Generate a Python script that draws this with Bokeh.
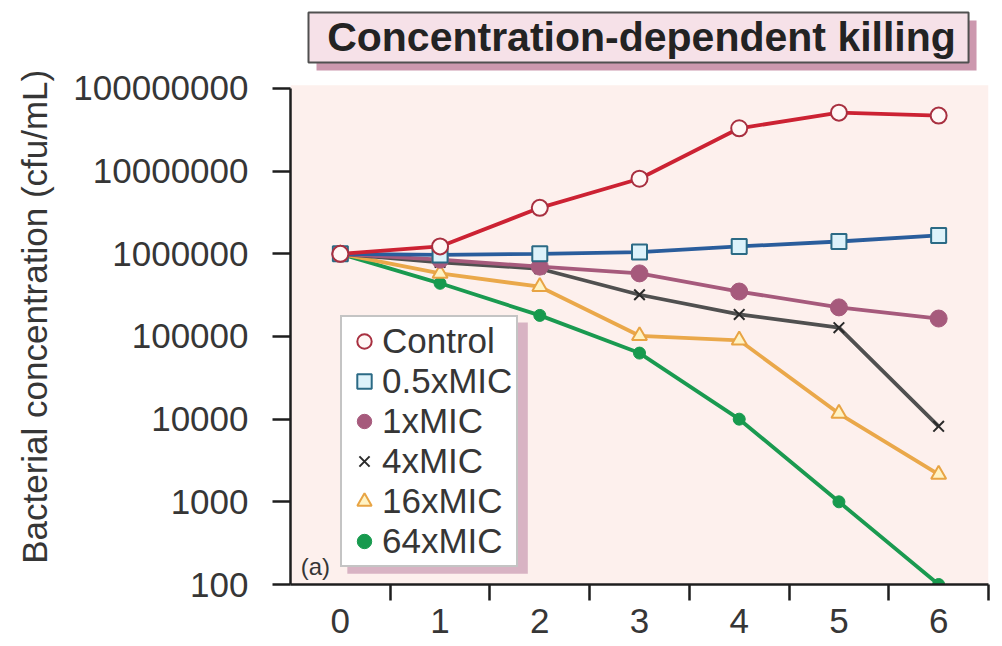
from bokeh.plotting import figure
from bokeh.models import Range1d, FixedTicker, Legend, LegendItem, BoxAnnotation, Label
from bokeh.embed import file_html
from bokeh.resources import INLINE
from bokeh.core.properties import value

# ---------------- data ----------------
title_text = "Concentration-dependent killing"
y_axis_title = "Bacterial concentration (cfu/mL)"
panel_tag = "(a)"

hours = [0, 1, 2, 3, 4, 5, 6]
control = [1.0e6, 1.23e6, 3.6e6, 8.1e6, 3.3e7, 5.1e7, 4.7e7]
mic_0_5 = [1.0e6, 0.97e6, 1.0e6, 1.05e6, 1.23e6, 1.41e6, 1.67e6]
mic_1 = [1.0e6, 8.5e5, 7.0e5, 5.8e5, 3.5e5, 2.25e5, 1.65e5]
mic_4 = [1.0e6, 7.9e5, 6.6e5, 3.2e5, 1.85e5, 1.28e5, 8.2e3]
mic_16 = [1.0e6, 5.8e5, 4.0e5, 1.02e5, 9.0e4, 1.17e4, 2.15e3]
mic_64 = [1.0e6, 4.4e5, 1.8e5, 6.3e4, 1.0e4, 1.0e3, 1.0e2]

series_names = ["Control", "0.5xMIC", "1xMIC", "4xMIC", "16xMIC", "64xMIC"]

y_ticks = [100, 1000, 10000, 100000, 1000000, 10000000, 100000000]
y_tick_labels = ["100", "1000", "10000", "100000", "1000000", "10000000", "100000000"]
x_tick_half = [0.5, 1.5, 2.5, 3.5, 4.5, 5.5, 6.5]

FONT = "Liberation Sans"
TXT = "#363636"

# the frame also spans the title strip above the data area
Y_TOP = 10 ** 9.0645

p = figure(width=994, height=638, x_range=Range1d(-0.5, 6.5), y_range=Range1d(100, Y_TOP),
           y_axis_type="log", output_backend="svg", toolbar_location=None,
           min_border_left=290, min_border_right=6, min_border_top=0, min_border_bottom=54)
p.outline_line_color = None
p.background_fill_color = "white"
p.border_fill_color = "white"
p.xgrid.visible = False
p.ygrid.visible = False

# pink data area
plot_bg = BoxAnnotation(bottom=100, top=10 ** 8.04, fill_color="#fdf0ed", fill_alpha=1.0,
                        line_color=None, level="underlay")
p.add_layout(plot_bg)

# x axis: integer labels, ticks between them
xa = p.xaxis[0]
xa.ticker = FixedTicker(ticks=hours, minor_ticks=x_tick_half)
xa.major_tick_line_color = None
xa.major_tick_out = 0
xa.major_tick_in = 0
xa.minor_tick_line_color = "#1e1e1e"
xa.minor_tick_line_width = 2.5
xa.minor_tick_out = 16
xa.minor_tick_in = 0
xa.axis_line_color = "#1e1e1e"
xa.axis_line_width = 2.5
xa.major_label_text_font = FONT
xa.major_label_text_font_size = "35px"
xa.major_label_text_color = TXT
xa.major_label_standoff = 8

ya = p.yaxis[0]
ya.bounds = (y_ticks[0], y_ticks[-1])
ya.ticker = FixedTicker(ticks=y_ticks, minor_ticks=[])
ya.major_label_overrides = {t: s for t, s in zip(y_ticks, y_tick_labels)}
ya.major_tick_out = 18
ya.major_tick_in = 0
ya.major_tick_line_width = 2.5
ya.major_tick_line_color = "#1e1e1e"
ya.minor_tick_line_color = None
ya.axis_line_color = "#1e1e1e"
ya.axis_line_width = 2.5
ya.major_label_text_font = FONT
ya.major_label_text_font_size = "35px"
ya.major_label_text_color = TXT
ya.major_label_standoff = 24
# trailing no-break spaces move the centred label down to sit beside the data area
ya.axis_label = y_axis_title + "\u00a0" * 5
ya.axis_label_text_font = FONT
ya.axis_label_text_font_size = "35px"
ya.axis_label_text_font_style = "normal"
ya.axis_label_text_color = TXT
ya.axis_label_standoff = 16

series = [
    (control, "#cc2233", dict(marker="circle", size=16, fill_color="#fff7f5", line_color="#a83040", line_width=2)),
    (mic_0_5, "#2a5d9c", dict(marker="square", size=15, fill_color="#ddf2fa", line_color="#2b6a85", line_width=2)),
    (mic_1, "#a65a7c", dict(marker="circle", size=17, fill_color="#a65a7c", line_color="#a65a7c", line_width=1)),
    (mic_4, "#505050", dict(marker="x", size=15, fill_color=None, line_color="#2a2a2a", line_width=2)),
    (mic_16, "#eaa84a", dict(marker="triangle", size=15, fill_color="#fff3c4", line_color="#e8a444", line_width=2)),
    (mic_64, "#1a9a50", dict(marker="circle", size=12, fill_color="#179a4e", line_color="#179a4e", line_width=1)),
]

scatter_renderers = {}
for idx in reversed(range(len(series))):
    ys, col, mk = series[idx]
    p.line(hours, ys, line_color=col, line_width=3.8)
for idx in reversed(range(len(series))):
    ys, col, mk = series[idx]
    scatter_renderers[idx] = p.scatter(hours, ys, **mk)

# ---------------- title box (in the strip above the data area) ----------------
title_shadow = BoxAnnotation(left=-0.2392, right=6.380, bottom=10 ** 8.2177, top=10 ** 8.8226,
                             fill_color="#cc98ae", fill_alpha=1.0, line_color=None)
p.add_layout(title_shadow)
title_box = BoxAnnotation(left=-0.3195, right=6.300, bottom=10 ** 8.3145, top=10 ** 8.9193,
                          fill_color="#f6e1e8", fill_alpha=1.0,
                          line_color="#505050", line_width=2, line_alpha=1.0)
p.add_layout(title_box)
title_lbl = Label(x=3.02, y=10 ** 8.617, text=title_text,
                  text_align="center", text_baseline="middle",
                  text_font=FONT, text_font_style="bold", text_font_size="41px",
                  text_color="#232323")
p.add_layout(title_lbl)

# ---------------- legend ----------------
shadow = BoxAnnotation(left=0.07, right=1.88, bottom=10 ** 2.13, top=10 ** 5.17,
                       fill_color="#d8b3c3", fill_alpha=1.0, line_color=None)
p.add_layout(shadow)

legend = Legend(items=[LegendItem(label=series_names[i], renderers=[scatter_renderers[i]])
                       for i in range(len(series_names))],
                location=(50, 17))
legend.background_fill_color = "white"
legend.background_fill_alpha = 1.0
legend.border_line_color = "#8a8a8a"
legend.border_line_width = 2
legend.padding = 4
legend.margin = 0
legend.spacing = 0
legend.glyph_width = 36
legend.glyph_height = 36
legend.label_height = 36
legend.label_standoff = 0
legend.label_text_font = FONT
legend.label_text_font_size = "35px"
legend.label_text_color = TXT
p.add_layout(legend)

tag = Label(x=-0.25, y=10 ** 2.05, text=panel_tag, text_align="center", text_baseline="bottom",
            text_font=FONT, text_font_size="24px", text_color=TXT)
p.add_layout(tag)

open("out.html", "w").write(file_html(p, INLINE))
